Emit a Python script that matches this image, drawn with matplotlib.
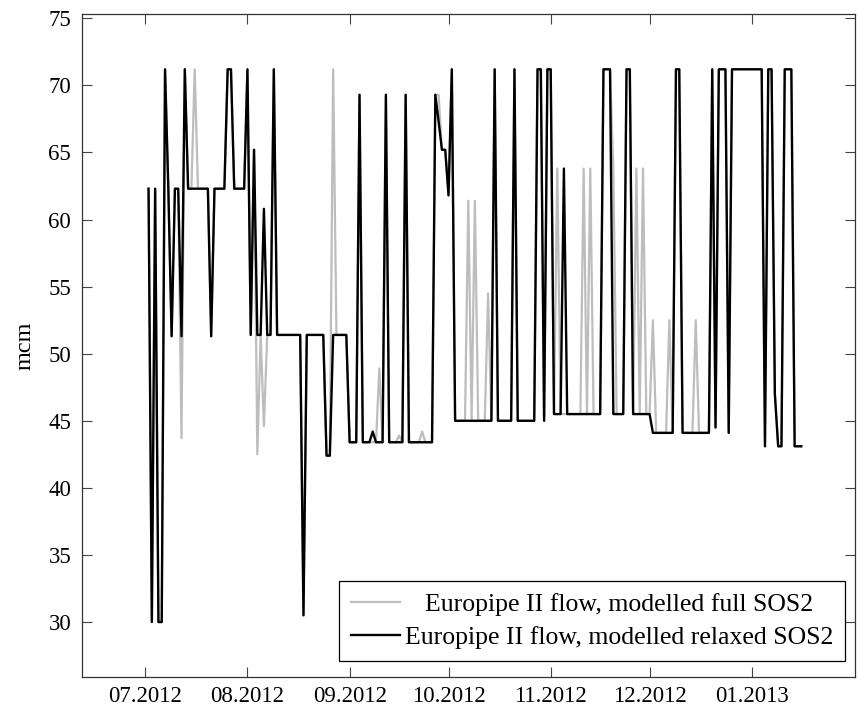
import numpy as np
import pandas as pd
import matplotlib
matplotlib.use('Agg')
import matplotlib.pyplot as plt
import matplotlib.dates as mdates

# daily Europipe II flow (mcm), starting 02.07.2012
start_day = '2012-07-02'

relaxed_sos2 = [
    62.3, 30.0, 62.3, 30.0, 30.0, 71.2, 62.3, 51.3, 62.3, 62.3,
    51.3, 71.2, 62.3, 62.3, 62.3, 62.3, 62.3, 62.3, 62.3, 51.3,
    62.3, 62.3, 62.3, 62.3, 71.2, 71.2, 62.3, 62.3, 62.3, 62.3,
    71.2, 51.4, 65.2, 51.4, 51.4, 60.8, 51.4, 51.4, 71.2, 51.4,
    51.4, 51.4, 51.4, 51.4, 51.4, 51.4, 51.4, 30.5, 51.4, 51.4,
    51.4, 51.4, 51.4, 51.4, 42.4, 42.4, 51.4, 51.4, 51.4, 51.4,
    51.4, 43.4, 43.4, 43.4, 69.3, 43.4, 43.4, 43.4, 44.2, 43.4,
    43.4, 43.4, 69.3, 43.4, 43.4, 43.4, 43.4, 43.4, 69.3, 43.4,
    43.4, 43.4, 43.4, 43.4, 43.4, 43.4, 43.4, 69.3, 67.3, 65.2,
    65.2, 61.8, 71.2, 45.0, 45.0, 45.0, 45.0, 45.0, 45.0, 45.0,
    45.0, 45.0, 45.0, 45.0, 45.0, 71.2, 45.0, 45.0, 45.0, 45.0,
    45.0, 71.2, 45.0, 45.0, 45.0, 45.0, 45.0, 45.0, 71.2, 71.2,
    45.0, 71.2, 71.2, 45.5, 45.5, 45.5, 63.8, 45.5, 45.5, 45.5,
    45.5, 45.5, 45.5, 45.5, 45.5, 45.5, 45.5, 45.5, 71.2, 71.2,
    71.2, 45.5, 45.5, 45.5, 45.5, 71.2, 71.2, 45.5, 45.5, 45.5,
    45.5, 45.5, 45.5, 44.1, 44.1, 44.1, 44.1, 44.1, 44.1, 44.1,
    71.2, 71.2, 44.1, 44.1, 44.1, 44.1, 44.1, 44.1, 44.1, 44.1,
    44.1, 71.2, 44.5, 71.2, 71.2, 71.2, 44.1, 71.2, 71.2, 71.2,
    71.2, 71.2, 71.2, 71.2, 71.2, 71.2, 71.2, 43.1, 71.2, 71.2,
    47.0, 43.1, 43.1, 71.2, 71.2, 71.2, 43.1, 43.1, 43.1,
]

full_sos2 = [
    62.3, 30.0, 62.3, 30.0, 30.0, 71.2, 62.3, 51.3, 62.3, 62.3,
    43.7, 71.2, 62.3, 62.3, 71.2, 62.3, 62.3, 62.3, 62.3, 51.3,
    62.3, 62.3, 62.3, 62.3, 71.2, 71.2, 62.3, 62.3, 62.3, 62.3,
    71.2, 51.4, 65.2, 42.5, 51.4, 44.6, 51.4, 51.4, 71.2, 51.4,
    51.4, 51.4, 51.4, 51.4, 51.4, 51.4, 51.4, 30.5, 51.4, 51.4,
    51.4, 51.4, 51.4, 51.4, 42.4, 42.4, 71.2, 51.4, 51.4, 51.4,
    51.4, 43.4, 43.4, 43.4, 69.3, 43.4, 43.4, 43.4, 43.4, 43.4,
    48.9, 43.4, 69.3, 43.4, 43.4, 43.4, 43.9, 43.4, 69.3, 43.4,
    43.4, 43.4, 43.4, 44.2, 43.4, 43.4, 43.4, 69.3, 69.3, 65.2,
    65.2, 61.8, 71.2, 45.0, 45.0, 45.0, 45.0, 61.4, 45.0, 61.4,
    45.0, 45.0, 45.0, 54.5, 45.0, 71.2, 45.0, 45.0, 45.0, 45.0,
    45.0, 71.2, 45.0, 45.0, 45.0, 45.0, 45.0, 45.0, 71.2, 71.2,
    45.0, 71.2, 71.2, 45.5, 63.8, 45.5, 45.5, 45.5, 45.5, 45.5,
    45.5, 45.5, 63.8, 45.5, 63.8, 45.5, 45.5, 45.5, 71.2, 71.2,
    71.2, 63.8, 45.5, 45.5, 45.5, 71.2, 71.2, 45.5, 63.8, 45.5,
    63.8, 45.5, 45.5, 52.5, 44.1, 44.1, 44.1, 44.1, 52.5, 44.1,
    71.2, 71.2, 44.1, 44.1, 44.1, 44.1, 52.5, 44.1, 44.1, 44.1,
    44.1, 71.2, 44.5, 71.2, 71.2, 71.2, 44.1, 71.2, 71.2, 71.2,
    71.2, 71.2, 71.2, 71.2, 71.2, 71.2, 71.2, 43.1, 71.2, 71.2,
    47.0, 43.1, 43.1, 71.2, 71.2, 71.2, 43.1, 43.1, 43.1,
]

labels = ['Europipe II flow, modelled full SOS2',
          'Europipe II flow, modelled relaxed SOS2']

month_ticks = ['2012-07-01', '2012-08-01', '2012-09-01', '2012-10-01',
               '2012-11-01', '2012-12-01', '2013-01-01']

days = pd.date_range(start=start_day, periods=len(relaxed_sos2), freq='D')

plt.rcParams['font.family'] = ['Liberation Serif', 'DejaVu Serif']
plt.rcParams['font.size'] = 16.5

fig = plt.figure(figsize=(8.59, 7.11), dpi=100)
ax = fig.add_axes([0.0958, 0.0474, 0.8995, 0.9329])

ax.plot(days, full_sos2, color='#bdbdbd', lw=1.6, label=labels[0])
ax.plot(days, relaxed_sos2, color='black', lw=1.7, label=labels[1])

x0 = mdates.date2num(pd.Timestamp('2012-07-01'))
ax.set_xlim(x0 - 19.1, x0 + 215.3)
ax.set_ylim(25.88, 75.32)
ax.set_yticks(np.arange(30, 76, 5))
ax.set_xticks(pd.to_datetime(month_ticks))
ax.xaxis.set_major_formatter(mdates.DateFormatter('%m.%Y'))

ax.tick_params(direction='in', length=7, width=0.8, color='#444444',
               top=True, right=True)
ax.tick_params(axis='x', pad=6)
ax.tick_params(axis='y', pad=8)
for s in ax.spines.values():
    s.set_linewidth(0.9)
    s.set_color('#333333')

ax.set_ylabel('mcm', labelpad=9, fontsize=17.5)

leg = ax.legend(loc='lower right', bbox_to_anchor=(0.987, 0.0246),
                borderaxespad=0, fancybox=False, framealpha=1,
                edgecolor='black', handlelength=1.9, handletextpad=0.2,
                borderpad=0.45, labelspacing=0.42, fontsize=18.5)
leg.get_frame().set_linewidth(0.9)

# centre the shorter legend entry over the longer one
fig.canvas.draw()
t1, t2 = leg.get_texts()
w1 = t1.get_window_extent().width
w2 = t2.get_window_extent().width
t1.set_x((w2 - w1) / 2)

fig.savefig('out.png', dpi=100)
